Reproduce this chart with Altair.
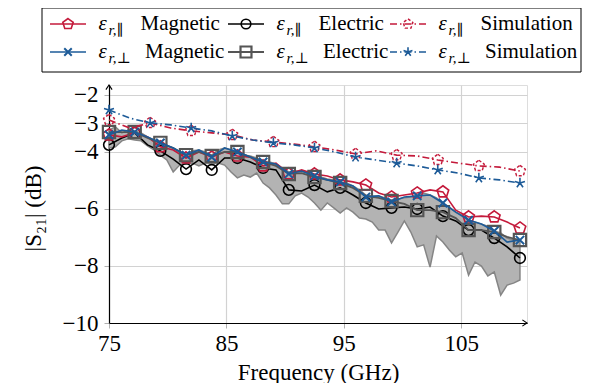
import altair as alt
import numpy as np
import pandas as pd

# ---------------- data (dB) ----------------
freq_meas = np.linspace(75, 110, 33)
freq_band = np.linspace(75, 110, 65)
freq_sim = np.linspace(75, 110, 21)

mag_par = [-3.40, -3.47, -3.33, -3.47, -3.82, -3.93, -4.21, -4.00, -4.18, -4.00, -4.14,
           -4.18, -4.49, -4.39, -4.77, -4.63, -4.77, -4.84, -4.98, -5.05, -5.16, -5.44,
           -5.58, -5.51, -5.44, -5.33, -5.40, -6.04, -6.28, -6.25, -6.28, -6.46, -6.67]
ele_par = [-3.75, -3.51, -3.33, -3.75, -3.96, -4.25, -4.60, -4.28, -4.63, -4.21, -4.21,
           -4.35, -4.56, -4.63, -5.33, -5.37, -5.16, -5.40, -5.26, -5.51, -5.79, -6.00,
           -5.96, -5.93, -6.00, -5.93, -6.25, -6.42, -6.74, -6.74, -7.02, -7.33, -7.72]
mag_perp = [-3.40, -3.23, -3.30, -3.47, -3.68, -3.86, -4.11, -3.93, -4.18, -3.86, -4.00,
            -4.18, -4.35, -4.42, -4.77, -4.67, -4.84, -4.98, -5.05, -5.19, -5.58, -5.54,
            -5.75, -5.58, -5.54, -5.51, -5.79, -6.11, -6.39, -6.53, -6.77, -7.16, -7.09]
ele_perp = [-3.30, -3.30, -3.30, -3.51, -3.68, -3.86, -4.11, -4.00, -4.14, -4.00, -4.00,
            -4.18, -4.35, -4.49, -4.77, -4.74, -4.88, -4.98, -5.09, -5.26, -5.54, -5.61,
            -5.72, -5.82, -6.04, -6.04, -6.11, -6.32, -6.74, -6.74, -6.81, -6.98, -7.09]
sim_par = [-2.88, -3.16, -2.98, -3.16, -3.26, -3.33, -3.40, -3.58, -3.65, -3.72, -3.82,
           -3.93, -4.07, -3.96, -4.11, -4.14, -4.28, -4.39, -4.49, -4.53, -4.67]
sim_perp = [-2.53, -2.81, -2.98, -3.05, -3.16, -3.26, -3.44, -3.58, -3.68, -3.75, -3.86,
            -4.00, -4.18, -4.28, -4.39, -4.49, -4.63, -4.74, -4.91, -4.98, -5.09]
band_low = [-3.86, -3.82, -3.61, -3.54, -3.58, -3.61, -3.79, -3.93, -4.11, -4.28,
            -4.70, -4.46, -4.42, -4.39, -4.49, -4.39, -4.42, -4.39, -4.46, -4.70,
            -4.91, -4.81, -4.88, -4.74, -5.09, -5.26, -5.51, -5.82, -5.82, -5.54,
            -5.44, -5.58, -5.79, -6.04, -5.79, -5.96, -6.14, -5.96, -6.11, -6.32,
            -6.35, -6.46, -6.74, -6.74, -7.19, -6.81, -6.42, -6.81, -7.33, -7.26,
            -8.04, -6.95, -7.16, -7.44, -7.68, -7.54, -8.32, -7.86, -8.00, -8.35,
            -8.21, -9.02, -8.67, -8.60, -8.49]
band_up = [-3.23, -3.12, -3.33, -3.23, -3.26, -3.33, -3.47, -3.58, -3.68, -3.79,
           -3.86, -4.00, -4.11, -3.96, -3.93, -4.00, -4.11, -3.93, -3.86, -3.93,
           -4.00, -4.11, -4.14, -4.21, -4.32, -4.35, -4.42, -4.56, -4.70, -4.67,
           -4.67, -4.74, -4.84, -4.88, -4.95, -4.98, -5.05, -5.09, -5.19, -5.33,
           -5.51, -5.54, -5.54, -5.61, -5.68, -5.65, -5.61, -5.58, -5.54, -5.44,
           -5.51, -5.61, -5.79, -5.93, -6.11, -6.21, -6.39, -6.46, -6.53, -6.60,
           -6.77, -6.84, -7.02, -7.09, -7.09]

x_ticks = [75, 85, 95, 105]
y_ticks = [-10, -8, -6, -4, -3, -2]

# ---------------- styles ----------------
FONT = "'Liberation Serif', 'Times New Roman', Times, 'DejaVu Serif', serif"
RED = "#c41a3b"
BLUE = "#1d5b98"
GRAY = "#555555"
DASH = [7, 3, 1.5, 3]
PENT = "M0,-1L0.951,-0.309L0.588,0.809L-0.588,0.809L-0.951,-0.309Z"
XMARK = "M-1,-1L1,1M-1,1L1,-1"
STAR = "M0,0L0,-1M0,0L0.951,-0.309M0,0L0.588,0.809M0,0L-0.588,0.809M0,0L-0.951,-0.309"

W, H = 418, 238
xs = alt.Scale(domain=[75, 110.6], nice=False, zero=False)
ys = alt.Scale(domain=[-10, -1.65], nice=False, zero=False)
x_axis = alt.Axis(values=x_ticks, title="Frequency (GHz)", grid=True, gridColor="#d2d2d2",
                  gridWidth=1.2, tickColor="#b0b0b0", tickSize=5, labelPadding=4,
                  labelFontSize=23, labelFont=FONT, labelColor="black", domainColor="black",
                  domainWidth=1.2, titleFont=FONT, titleFontSize=23, titleFontWeight="normal",
                  titleColor="black", titleX=W / 2, titleY=56, titleBaseline="alphabetic",
                  titleAlign="center", labelFlush=False)
y_axis = alt.Axis(values=y_ticks, title="|S₂₁| (dB)", grid=True, gridColor="#d2d2d2",
                  gridWidth=1.2, tickColor="#b0b0b0", tickSize=5, labelPadding=6,
                  labelFontSize=23, labelFont=FONT, labelColor="black", domainColor="black",
                  domainWidth=1.2, titleFont=FONT, titleFontSize=23, titleFontWeight="normal",
                  titleColor="black", titleX=-69, titleY=123, titleAngle=270,
                  titleBaseline="alphabetic", titleAlign="center", labelFlush=False)


def X(field):
    return alt.X(field, type="quantitative", scale=xs, axis=x_axis)


def Y(field):
    return alt.Y(field, type="quantitative", scale=ys, axis=y_axis)


band_df = pd.DataFrame({"f": freq_band, "lo": band_low, "hi": band_up})
band = alt.Chart(band_df).mark_area(fill="#b3b3b3", stroke="#858585", strokeWidth=1.5).encode(
    x=X("f"), y=Y("lo"), y2="hi")

series = [
    dict(freq=freq_meas, vals=ele_par, color="black", dash=None, shape="circle", size=115, sw=1.6,
         msw=1.6, label="Electric", sub="r,∥", row=0, col=1),
    dict(freq=freq_meas, vals=mag_par, color=RED, dash=None, shape=PENT, size=150, sw=1.6,
         msw=1.6, label="Magnetic", sub="r,∥", row=0, col=0),
    dict(freq=freq_meas, vals=ele_perp, color=GRAY, dash=None, shape="square", size=150, sw=1.8,
         msw=2.2, label="Electric", sub="r,⊥", row=1, col=1),
    dict(freq=freq_meas, vals=mag_perp, color=BLUE, dash=None, shape=XMARK, size=70, sw=1.6,
         msw=2.0, label="Magnetic", sub="r,⊥", row=1, col=0),
    dict(freq=freq_sim, vals=sim_par, color=RED, dash=DASH, shape=PENT, size=130, sw=1.6,
         msw=1.4, label="Simulation", sub="r,∥", row=0, col=2),
    dict(freq=freq_sim, vals=sim_perp, color=BLUE, dash=DASH, shape=STAR, size=110, sw=1.6,
         msw=1.6, label="Simulation", sub="r,⊥", row=1, col=2),
]

main_layers = [band]
for s in series:
    df = pd.DataFrame({"f": s["freq"], "v": s["vals"]})
    df["m"] = [i % 2 == 0 for i in range(len(df))]
    lkw = dict(color=s["color"], strokeWidth=s["sw"])
    if s["dash"]:
        lkw["strokeDash"] = s["dash"]
    main_layers.append(alt.Chart(df).mark_line(**lkw).encode(x=X("f"), y=Y("v")))
    pkw = dict(shape=s["shape"], size=s["size"], filled=False, color=s["color"],
               strokeWidth=s["msw"], opacity=1)
    if s["dash"] and s["shape"] == PENT:
        pkw["strokeDash"] = [3, 2]
    main_layers.append(alt.Chart(df).transform_filter("datum.m").mark_point(**pkw).encode(
        x=X("f"), y=Y("v")))

one = pd.DataFrame({"a": [0]})
arrow_x = alt.Chart(one).mark_point(shape="M-1.2,-0.8L0,0L-1.2,0.8", size=60, filled=False,
                                    color="black", strokeWidth=1.1, opacity=1).encode(
    x=alt.value(W), y=alt.value(H))
arrow_y = alt.Chart(one).mark_point(shape="M-0.8,1.2L0,0L0.8,1.2", size=60, filled=False,
                                    color="black", strokeWidth=1.1, opacity=1).encode(
    x=alt.value(0), y=alt.value(0))
main_layers += [arrow_x, arrow_y]
main = alt.layer(*main_layers)

# ---------------- legend (own scales) ----------------
col_off = [0, 178, 340]
row_y = [16, 44]
lxs = alt.Scale(domain=[0, 539], range=[-67, 472], nice=False, zero=False)
lys = alt.Scale(domain=[0, 64], range=[-77, -13], nice=False, zero=False)


def LX(f):
    return alt.X(f, type="quantitative", scale=lxs, axis=None)


def LY(f):
    return alt.Y(f, type="quantitative", scale=lys, axis=None)


box_df = pd.DataFrame({"x0": [0], "x1": [539], "y0": [0], "y1": [64]})
leg_layers = [alt.Chart(box_df).mark_rect(fill="white", stroke="black", strokeWidth=1).encode(
    x=LX("x0"), x2="x1", y=LY("y0"), y2="y1")]
for s in series:
    c = col_off[s["col"]]
    r = row_y[s["row"]]
    d = pd.DataFrame({"x0": [c + 8], "x1": [c + 44], "xm": [c + 26], "y": [r],
                      "xe": [c + 56.5], "xsub": [c + 66.5], "ysub": [r + 6],
                      "xt": [c + (98.5 if s["row"] == 0 else 103)],
                      "eps": ["ε"], "sub": [s["sub"]], "lab": [s["label"]]})
    rkw = dict(color=s["color"], strokeWidth=s["sw"])
    if s["dash"]:
        rkw["strokeDash"] = s["dash"]
    leg_layers.append(alt.Chart(d).mark_rule(**rkw).encode(x=LX("x0"), x2="x1", y=LY("y")))
    pkw = dict(shape=s["shape"], size=s["size"] * 0.8, filled=False, color=s["color"],
               strokeWidth=s["msw"], opacity=1)
    if s["dash"] and s["shape"] == PENT:
        pkw["strokeDash"] = [3, 2]
    leg_layers.append(alt.Chart(d).mark_point(**pkw).encode(x=LX("xm"), y=LY("y")))
    leg_layers.append(alt.Chart(d).mark_text(align="left", baseline="middle", fontSize=21,
                                             font=FONT, fontStyle="italic", color="black").encode(
        x=LX("xe"), y=LY("y"), text="eps:N"))
    leg_layers.append(alt.Chart(d).mark_text(align="left", baseline="middle", fontSize=15,
                                             font=FONT, fontStyle="italic", color="black").encode(
        x=LX("xsub"), y=LY("ysub"), text="sub:N"))
    leg_layers.append(alt.Chart(d).mark_text(align="left", baseline="middle", fontSize=21,
                                             font=FONT, color="black").encode(
        x=LX("xt"), y=LY("y"), text="lab:N"))
legend = alt.layer(*leg_layers)

chart = alt.layer(main, legend).resolve_scale(x="independent", y="independent").properties(
    width=W, height=H,
    padding={"left": 101, "top": 77, "right": 55, "bottom": 60},
    autosize=alt.AutoSizeParams(type="none"),
).configure_view(stroke=None).configure(font=FONT)

chart.save("out.html", embed_options={"renderer": "svg", "actions": False})
